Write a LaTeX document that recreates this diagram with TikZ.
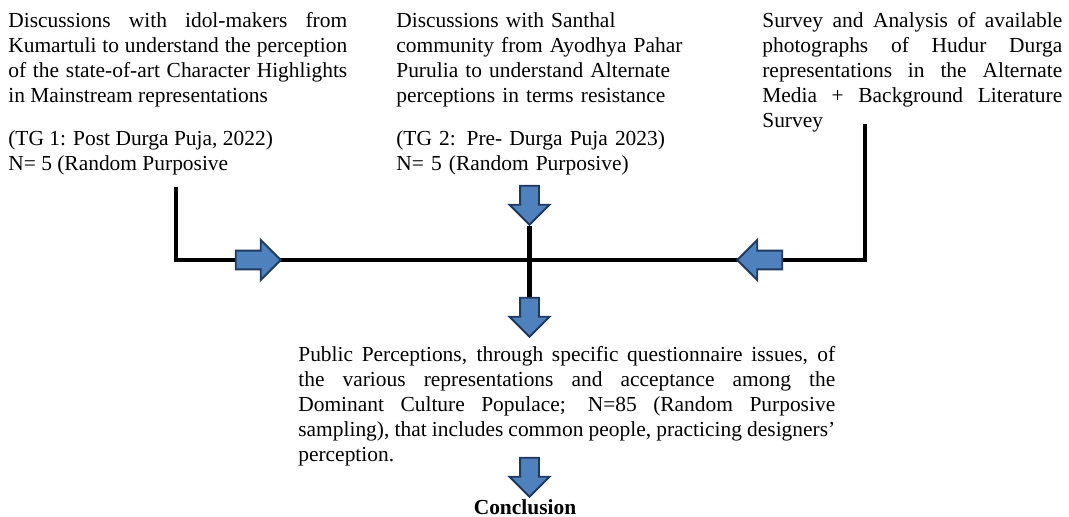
\documentclass[tikz,border=0pt]{standalone}
\usepackage{fontspec}
\setmainfont{Liberation Serif}
\usetikzlibrary{shapes.arrows}

\definecolor{arrowblue}{HTML}{4F81BD}
\definecolor{arrowline}{HTML}{1F3A60}

\begin{document}
\begin{tikzpicture}[x=0.02cm, y=-0.02cm,
  txt/.style={anchor=north west, inner sep=0pt, font=\fontsize{12.2}{14.2}\selectfont},
  blockarrow/.style={single arrow, draw=arrowline, fill=arrowblue, line width=1.1pt,
    inner xsep=0pt, inner ysep=0.17cm, minimum width=0.76cm, single arrow head extend=0.21cm},
  harrow/.style={blockarrow, minimum height=0.9cm},
  varrow/.style={blockarrow, minimum height=0.78cm, rotate=-90},
  bar/.style={line width=2.8pt}]

\useasboundingbox (0,0) rectangle (1069,517);

% the three sources
\node[txt, text width=6.78cm, align=justify] (tg1) at (8, 12.5)
  {Discussions with idol-makers from\linebreak
   Kumartuli to understand the perception\linebreak
   of the state-of-art Character Highlights\linebreak
   in Mainstream representations\par\vspace{10pt}
   (TG 1: Post Durga Puja, 2022)\\
   N= 5 (Random Purposive};

\node[txt, text width=6cm, align=left] (tg2) at (396, 12.5)
  {Discussions with Santhal\\
   community from Ayodhya Pahar\\
   Purulia to understand Alternate\\
   perceptions in terms resistance\par\vspace{10pt}
   (TG 2: Pre- Durga Puja 2023)\\
   N= 5 (Random Purposive)};

\node[txt, text width=6cm, align=justify] (media) at (762, 12.5)
  {Survey and Analysis of available\linebreak
   photographs of Hudur Durga\linebreak
   representations in the Alternate\linebreak
   Media + Background Literature\linebreak
   Survey};

% joining bar
\coordinate (lt) at (176, 187);
\coordinate (lb) at (176, 260);
\coordinate (rb) at (865, 260);
\coordinate (rt) at (865, 124);
\draw[bar] (lt) -- (lb) -- (rb) -- (rt);

\node[harrow] (arrL) at (253.5, 260) {};
\node[harrow, rotate=180] (arrR) at (764.5, 260) {};
\node[varrow] (arrT) at (529.5, 200.5) {};
\node[varrow] (arrB) at (529.5, 312.5) {};
\draw[bar] (arrT.tip) -- (arrB.tail);

% public survey
\node[txt, text width=10.74cm, align=justify] (public) at (298, 346)
  {Public Perceptions, through specific questionnaire issues, of\linebreak
   the various representations and acceptance among the\linebreak
   Dominant Culture Populace; N=85 (Random Purposive\linebreak
   sampling), that includes common people, practicing designers’\linebreak
   perception.};

\node[varrow] (arrC) at (529.5, 472.5) {};
\node[font=\fontsize{12.2}{14.2}\selectfont\bfseries, inner sep=0pt] (concl) at (525, 507) {Conclusion};

\end{tikzpicture}
\end{document}
